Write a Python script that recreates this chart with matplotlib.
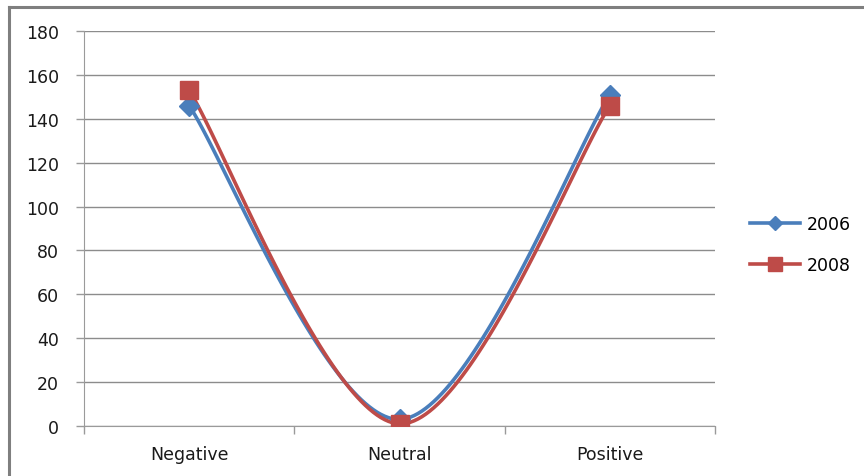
import numpy as np
import matplotlib
matplotlib.use("Agg")
import matplotlib.pyplot as plt
from matplotlib.lines import Line2D

categories = ["Negative", "Neutral", "Positive"]
series_names = ["2006", "2008"]
values_2006 = [146, 3, 151]
values_2008 = [153, 1, 146]
y_ticks = [0, 20, 40, 60, 80, 100, 120, 140, 160, 180]

plt.rcParams['font.family'] = ['DejaVu Sans']

def smooth(xs, ys, n=60):
    # Catmull-Rom style Bezier smoothing (like Excel "smoothed line")
    xs = np.asarray(xs, float); ys = np.asarray(ys, float)
    P = np.column_stack([xs, ys])
    out = []
    for i in range(len(P) - 1):
        p0 = P[i - 1] if i > 0 else P[i]
        p1 = P[i]; p2 = P[i + 1]
        p3 = P[i + 2] if i + 2 < len(P) else P[i + 1]
        c1 = p1 + (p2 - p0) / 6.0
        c2 = p2 - (p3 - p1) / 6.0
        t = np.linspace(0, 1, n)[:, None]
        seg = ((1 - t) ** 3) * p1 + 3 * ((1 - t) ** 2) * t * c1 + 3 * (1 - t) * t ** 2 * c2 + t ** 3 * p2
        out.append(seg if i == 0 else seg[1:])
    S = np.vstack(out)
    return S[:, 0], S[:, 1]

fig = plt.figure(figsize=(8.64, 4.77), dpi=100)
ax = fig.add_axes([84/864, 50/477, 631/864, 395/477])

x = np.arange(len(categories))
blue = "#4A7EBB"
red = "#BE4B48"
lw = 2.6

sx, sy = smooth(x, values_2006)
ax.plot(sx, sy, color=blue, lw=lw, solid_capstyle='round', zorder=3)
ax.plot(x, values_2006, linestyle='none', marker='D', ms=10, color=blue, zorder=4)
sx, sy = smooth(x, values_2008)
ax.plot(sx, sy, color=red, lw=lw, solid_capstyle='round', zorder=3)
ax.plot(x, values_2008, linestyle='none', marker='s', ms=13.5, color=red, zorder=5)

ax.set_xlim(-0.5, len(categories) - 0.5)
ax.set_ylim(0, 180)
ax.set_yticks(y_ticks)
ax.set_yticklabels([str(v) for v in y_ticks], fontsize=12.5, color="#1a1a1a")
ax.set_xticks(x)
ax.set_xticklabels(categories, fontsize=12.5, color="#1a1a1a")
ax.tick_params(axis='x', length=0, pad=14)
ax.tick_params(axis='y', length=6, width=1, color="#9a9a9a", pad=12)
# category boundary ticks
ax.set_xticks(np.arange(-0.5, len(categories)), minor=True)
ax.tick_params(axis='x', which='minor', length=6, width=1, color="#9a9a9a")

ax.grid(axis='y', color="#8c8c8c", lw=1)
ax.set_axisbelow(True)
for s in ['top', 'right']:
    ax.spines[s].set_visible(False)
ax.spines['left'].set_color("#9a9a9a")
ax.spines['bottom'].set_color("#9a9a9a")

handles = [Line2D([], [], color=blue, lw=lw, marker='D', ms=7),
           Line2D([], [], color=red, lw=lw, marker='s', ms=10)]
fig.legend(handles, series_names, loc='center left', bbox_to_anchor=(750/864, 1 - 245.5/477),
           frameon=False, fontsize=12.5, handlelength=2.9, labelspacing=1.3,
           handletextpad=0.35, borderpad=0, borderaxespad=0)

# outer frame (top and left visible)
fig.add_artist(Line2D([9/864, 862/864], [1 - 8/477, 1 - 8/477], color="#7f7f7f", lw=2.2, transform=fig.transFigure))
fig.add_artist(Line2D([9/864, 9/864], [1 - 8/477, 0], color="#7f7f7f", lw=2.2, transform=fig.transFigure))

fig.savefig("out.png", dpi=100, facecolor="white")
